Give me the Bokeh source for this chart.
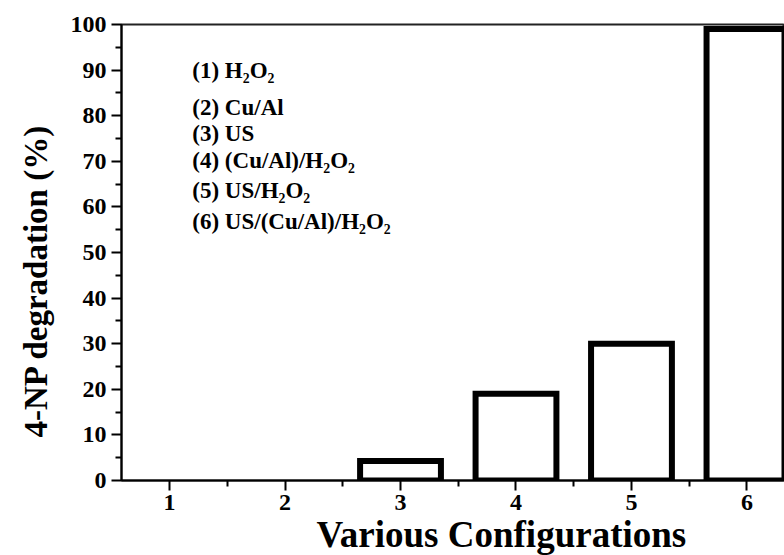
from bokeh.plotting import figure
from bokeh.models import Range1d, FixedTicker, Title, ColumnDataSource
from bokeh.core.properties import value
from bokeh.embed import file_html
from bokeh.resources import INLINE

# ---- data ----
configs = [1, 2, 3, 4, 5, 6]
degradation = [0, 0, 4.3, 19, 30, 99]          # 4-NP degradation (%)
x_tick_labels = ["1", "2", "3", "4", "5", "6"]
y_ticks = [0, 10, 20, 30, 40, 50, 60, 70, 80, 90, 100]
legend_labels = [
    "(1) H₂O₂",
    "(2) Cu/Al",
    "(3) US",
    "(4) (Cu/Al)/H₂O₂",
    "(5) US/H₂O₂",
    "(6) US/(Cu/Al)/H₂O₂",
]

# ---- layout / style ----
SERIF = "Liberation Serif"
BAR_WIDTH = 0.7
legend_x = 1.197
legend_y = [89.9, 81.8, 76.0, 70.1, 63.5, 56.9]

p = figure(
    width=784, height=555,
    output_backend="svg", toolbar_location=None,
    x_range=Range1d(0.584, 6.325), y_range=Range1d(0, 100),
    min_border_left=121, min_border_right=0,
    min_border_top=24, min_border_bottom=75,
)
p.background_fill_color = "white"
p.border_fill_color = "white"
p.outline_line_color = "#222222"
p.outline_line_width = 2
p.xgrid.visible = False
p.ygrid.visible = False

# open-bottomed hollow bars: the base sits below the frame and is clipped away
bars_x = [c for c, v in zip(configs, degradation) if v > 0]
bars_top = [v for v in degradation if v > 0]
src = ColumnDataSource(dict(x=bars_x, top=bars_top, bottom=[-3] * len(bars_x)))
p.vbar(x="x", top="top", bottom="bottom", width=BAR_WIDTH, source=src,
       fill_color=None, line_color="black", line_width=6, line_join="miter")

# configuration key
p.text(x=[legend_x] * len(legend_labels), y=legend_y, text=legend_labels,
       text_font=value(SERIF), text_font_style="bold", text_font_size="23px",
       text_baseline="middle", text_align="left", text_color="black")

# axes
xax = p.xaxis[0]
xax.ticker = FixedTicker(ticks=configs,
                         minor_ticks=[c + 0.5 for c in configs[:-1]])
xax.major_label_overrides = {c: t for c, t in zip(configs, x_tick_labels)}
yax = p.yaxis[0]
yax.ticker = FixedTicker(ticks=y_ticks,
                         minor_ticks=[t + 5 for t in y_ticks[:-1]])

for ax in (xax, yax):
    ax.axis_line_width = 2
    ax.axis_line_color = "black"
    ax.major_tick_line_width = 2
    ax.minor_tick_line_width = 2
    ax.major_tick_line_color = "black"
    ax.minor_tick_line_color = "black"
    ax.major_tick_in = 0
    ax.major_tick_out = 10
    ax.minor_tick_in = 0
    ax.minor_tick_out = 6
    ax.major_label_text_font = SERIF
    ax.major_label_text_font_style = "bold"
    ax.major_label_text_font_size = "24px"
    ax.major_label_text_color = "black"
xax.major_label_standoff = 4
yax.major_label_standoff = 5

xtitle = Title(text="Various Configurations", align="left", offset=195,
               text_font=SERIF, text_font_style="bold", text_font_size="37px",
               text_color="black", standoff=-1)
p.add_layout(xtitle, "below")

ytitle = Title(text="4-NP degradation (%)", align="left", offset=43,
               text_font=SERIF, text_font_style="bold", text_font_size="33px",
               text_color="black", standoff=28)
p.add_layout(ytitle, "left")

open("out.html", "w").write(file_html(p, INLINE))
